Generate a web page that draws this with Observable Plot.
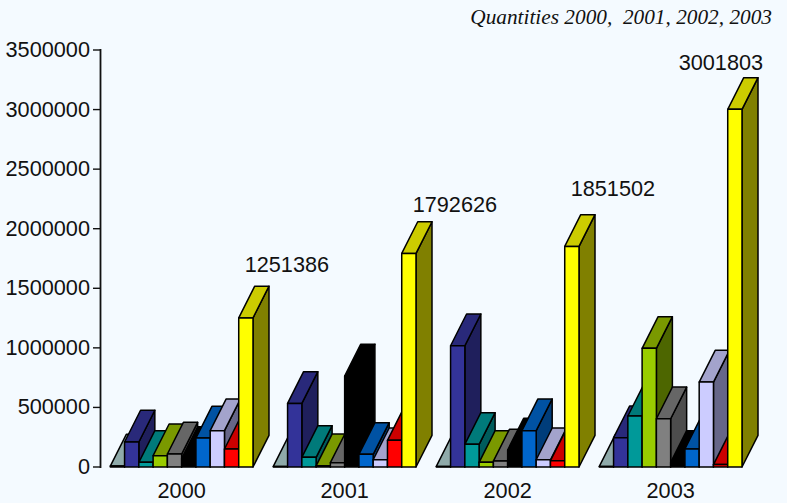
<!DOCTYPE html>
<html>
<head>
<meta charset="utf-8">
<script src="https://cdn.jsdelivr.net/npm/d3@7"></script>
<script src="https://cdn.jsdelivr.net/npm/@observablehq/plot@0.6"></script>
<style>
  html, body { margin: 0; padding: 0; background: #f4faff; }
  #wrap { position: relative; width: 787px; height: 503px; overflow: hidden; }
  #title { position: absolute; right: 15px; top: 5px; font: italic 21.3px "Liberation Serif", serif; color: #111; white-space: pre; }
  svg { display: block; }
</style>
</head>
<body>
<div id="wrap"><div id="title">Quantities 2000,  2001, 2002, 2003</div></div>
<script>
const years = ["2000", "2001", "2002", "2003"];
const values2000 = [8000, 210000, 39000, 95000, 109000, 72000, 243000, 305000, 151000, 1251386];
const values2001 = [5000, 534000, 81000, 10000, 36000, 764000, 106000, 61000, 224000, 1792626];
const values2002 = [5000, 1018000, 190000, 39000, 50000, 143000, 305000, 61000, 53000, 1851502];
const values2003 = [5000, 246000, 428000, 996000, 405000, 39000, 151000, 713000, 20000, 3001803];
const frontColors = ["#99b5b5", "#333399", "#009999", "#99cc00", "#808080", "#000000", "#0066cc", "#ccccff", "#ff0000", "#ffff00"];
const topColors = ["#8faaaa", "#29297a", "#007a7a", "#7a9900", "#666666", "#000000", "#0052a3", "#a3a3cc", "#cc0000", "#cccc00"];
const sideColors = ["#6b8080", "#1f1f5c", "#005c5c", "#4d6600", "#4d4d4d", "#000000", "#003d7a", "#666688", "#990000", "#808000"];

const allValues = [values2000, values2001, values2002, values2003];
const slotPx = 14.27, startPx = 109.8, groupSlots = 163 / slotPx;
const depthX = 16 / slotPx, depthY = 31.7 / (417 / 3500000);

const faces = [];
allValues.forEach((vals, g) => {
  vals.forEach((v, s) => {
    const x0 = g * groupSlots + s, x1 = x0 + 1;
    const add = (name, fill, pts) => pts.forEach(([x, y]) => faces.push({id: `${g}-${s}-${name}`, fill, x, y}));
    add("side", sideColors[s], [[x1, 0], [x1 + depthX, depthY], [x1 + depthX, v + depthY], [x1, v], [x1, 0]]);
    add("top", topColors[s], [[x0, v], [x1, v], [x1 + depthX, v + depthY], [x0 + depthX, v + depthY], [x0, v]]);
    add("front", frontColors[s], [[x0, 0], [x1, 0], [x1, v], [x0, v], [x0, 0]]);
  });
});

const font = "Liberation Sans, Arial, sans-serif";
const yearLabels = years.map((t, g) => ({t, x: g * groupSlots + 5}));
const totalShift = [[41, 53], [46, 48], [41, 57], [-14, 46]];
const totalMarks = allValues.map((vals, g) => Plot.text([vals[9]], {
  x: () => g * groupSlots + 9.5,
  y: d => d,
  text: d => String(d),
  dx: totalShift[g][0],
  dy: -totalShift[g][1],
  fontSize: 21.7,
  fontFamily: font,
  fill: "#111"
}));

const chart = Plot.plot({
  width: 787,
  height: 503,
  marginLeft: 100,
  marginRight: 0,
  marginTop: 49.5,
  marginBottom: 36.5,
  x: {domain: [0, 1], range: [startPx, startPx + slotPx], axis: null},
  y: {domain: [0, 3500000]},
  color: {type: "identity"},
  style: {background: "#f4faff", overflow: "visible"},
  marks: [
    Plot.axisY({
      ticks: d3.range(0, 3500001, 500000),
      tickFormat: d => String(d),
      label: null,
      tickSize: 7,
      tickPadding: 3.5,
      fontSize: 21.7,
      fontFamily: font,
      fill: "#111",
      stroke: "#111",
      strokeWidth: 1.4
    }),
    Plot.frame({anchor: "left", stroke: "#111", strokeWidth: 1.8}),
    Plot.line(faces, {x: "x", y: "y", z: "id", fill: "fill", stroke: "#000", strokeWidth: 1.5, curve: "linear"}),
    Plot.text(yearLabels, {x: "x", y: () => 0, text: "t", dy: 24.5, fontSize: 21.7, fontFamily: font, fill: "#111"}),
    ...totalMarks
  ]
});
document.getElementById("wrap").appendChild(chart);
</script>
</body>
</html>
